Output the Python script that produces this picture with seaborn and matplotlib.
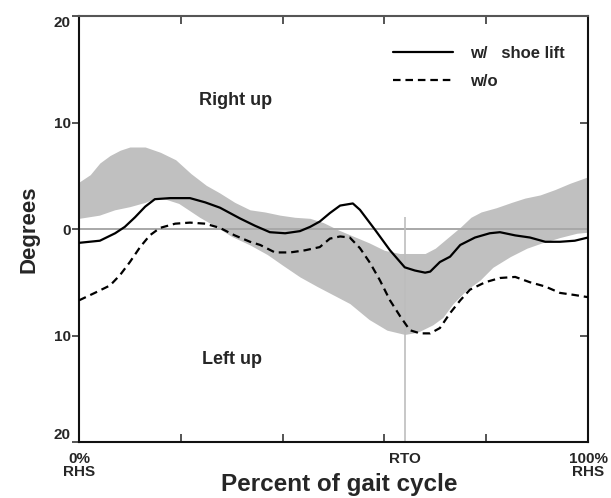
import matplotlib
matplotlib.use("Agg")
import matplotlib.pyplot as plt
import seaborn as sns
import pandas as pd
import numpy as np

# ---- data ----
with_x = [0, 4.1, 7.1, 9.0, 11.0, 13.0, 14.9, 17.9, 21.8, 24.8, 27.7, 31.6, 34.6, 37.5,
          40.5, 43.4, 45.4, 47.3, 49.3, 51.3, 53.8, 55.2, 58.2, 61.1, 64.0, 66.0, 68.0,
          69.0, 70.9, 72.9, 74.9, 77.8, 80.7, 82.7, 85.7, 88.6, 91.6, 94.5, 97.4, 100]
with_y = [-1.3, -1.1, -0.4, 0.2, 1.1, 2.1, 2.8, 2.9, 2.9, 2.5, 2.0, 1.0, 0.3, -0.3,
          -0.4, -0.2, 0.2, 0.7, 1.5, 2.2, 2.4, 1.8, -0.1, -2.0, -3.6, -3.9, -4.1,
          -4.0, -3.1, -2.6, -1.5, -0.8, -0.4, -0.3, -0.6, -0.8, -1.2, -1.2, -1.1, -0.8]

without_x = [0, 3.1, 6.1, 8.1, 10.0, 12.0, 13.9, 15.9, 18.9, 21.8, 24.8, 27.7, 30.6, 33.6,
             35.6, 38.5, 41.5, 44.4, 47.3, 49.3, 51.3, 53.2, 55.2, 57.2, 59.1, 61.1, 63.1,
             65.0, 67.0, 69.0, 70.9, 72.9, 74.9, 76.8, 79.8, 82.7, 85.7, 88.6, 91.6, 94.5,
             97.4, 100]
without_y = [-6.7, -6.0, -5.3, -4.3, -3.1, -1.7, -0.6, 0.1, 0.5, 0.6, 0.5, 0.1, -0.6, -1.2,
             -1.5, -2.2, -2.2, -2.0, -1.7, -0.9, -0.7, -0.8, -1.8, -3.2, -4.8, -6.7, -8.2,
             -9.5, -9.8, -9.8, -9.3, -7.9, -6.7, -5.7, -5.0, -4.6, -4.5, -5.0, -5.4, -6.0,
             -6.2, -6.4]

band_hi_x = [0, 2.2, 4.1, 6.1, 8.1, 10, 13, 16, 19, 22, 25, 27.6, 30.6, 33.6, 36.5, 39.5,
             42.4, 45.4, 48, 51, 54, 57, 60, 63, 65, 68, 70, 73, 75, 77, 79, 82, 85, 87.6,
             90.6, 93.5, 96.5, 100]
band_hi_y = [4.4, 5.1, 6.2, 6.9, 7.4, 7.7, 7.7, 7.2, 6.5, 5.2, 4.1, 3.4, 2.5, 1.8, 1.6, 1.3,
             1.1, 1.0, 0.6, -0.1, -0.7, -1.3, -2.0, -2.3, -2.3, -2.3, -1.8, -0.6, 0.2, 1.1,
             1.6, 2.0, 2.5, 2.9, 3.2, 3.7, 4.3, 4.9]
band_lo_x = [0, 4, 7, 10, 13, 15, 17, 19.6, 21.5, 23.7, 27, 30, 33.6, 37, 40, 43.4, 46.8, 50,
             53.2, 57, 60.5, 64, 66.5, 69.5, 71.5, 73.5, 76.2, 78.8, 81.3, 84.7, 88, 91,
             94.5, 97.8, 100]
band_lo_y = [1.0, 1.3, 1.8, 2.1, 2.5, 2.9, 2.8, 2.4, 1.8, 1.1, 0.2, -0.7, -1.5, -2.4, -3.4,
             -4.5, -5.4, -6.2, -7.0, -8.5, -9.5, -9.9, -9.7, -9.0, -8.3, -7.0, -5.7, -4.8,
             -3.6, -2.6, -1.8, -1.3, -0.8, -0.4, -0.3]

series_labels = ["w/   shoe lift", "w/o"]
y_ticks = [-20, -10, 0, 10, 20]
y_ticklabels = ["20", "10", "0", "10", "20"]
x_label_pos = [0, 64, 100]
x_ticklabels = ["0%\nRHS", "RTO", "100%\nRHS"]
x_minor_ticks = [20, 40, 60, 80]
rto = 64

# ---- style ----
sns.set_theme(style="white")
plt.rcParams["font.family"] = ["Liberation Sans", "DejaVu Sans"]
plt.rcParams["font.weight"] = "bold"

fig = plt.figure(figsize=(6.11, 4.98), dpi=100)
ax = fig.add_axes([79 / 611, 1 - 442 / 498, (588 - 79) / 611, (442 - 16) / 498])

# band
bx = np.union1d(band_hi_x, band_lo_x)
ax.fill_between(bx, np.interp(bx, band_lo_x, band_lo_y), np.interp(bx, band_hi_x, band_hi_y),
                color="#c0c0c0", linewidth=0, zorder=1)

# reference lines
ax.axhline(0, color="#a8a8a8", lw=1.4, zorder=2)
ax.vlines(rto, -20, 1.1, color="#bdbdbd", lw=1.2, zorder=2)

df_with = pd.DataFrame({"x": with_x, "y": with_y})
df_without = pd.DataFrame({"x": without_x, "y": without_y})
sns.lineplot(data=df_with, x="x", y="y", ax=ax, color="black", lw=1.6,
             label=series_labels[0], zorder=3, sort=False)
sns.lineplot(data=df_without, x="x", y="y", ax=ax, color="black", lw=1.6,
             label=series_labels[1], zorder=3, sort=False)
ax.lines[-1].set_dashes((3.4, 2.2))

ax.set_xlim(0, 100)
ax.set_ylim(-20, 20)

ax.set_yticks(y_ticks)
ax.set_yticklabels(y_ticklabels, fontsize=11, fontweight="bold")
ax.tick_params(axis="y", direction="out", length=5, width=1.1, pad=1, left=True)
ylabs = ax.get_yticklabels()
ylabs[0].set_va("bottom")
ylabs[-1].set_va("top")

ax.set_xticks(x_label_pos)
ax.set_xticklabels(x_ticklabels, fontsize=11, fontweight="bold", linespacing=0.95)
ax.tick_params(axis="x", length=0, pad=7, bottom=True)
ax.set_xticks(x_minor_ticks, minor=True)
ax.tick_params(axis="x", which="minor", direction="in", length=6, width=1.1,
               bottom=True, top=True)

# right ticks inward
sec = ax.secondary_yaxis("right")
sec.set_yticks([-10, 0, 10])
sec.tick_params(direction="in", length=6, width=1.1, labelright=False)
sec.spines["right"].set_visible(False)

for s in ["left", "bottom", "right"]:
    ax.spines[s].set_color("#111111")
    ax.spines[s].set_linewidth(1.5)
ax.spines["top"].set_color("#555555")
ax.spines["top"].set_linewidth(1.5)

ax.set_xlabel("Percent of gait cycle", fontsize=17.5, fontweight="bold")
ax.xaxis.set_label_coords(0.512, -0.116)
ax.xaxis.label.set_va("baseline")
ax.set_ylabel("Degrees", fontsize=16, fontweight="bold", labelpad=10)

ax.text(30.8, 12.1, "Right up", fontsize=13, fontweight="bold", ha="center", va="center")
ax.text(30.0, -12.3, "Left up", fontsize=13, fontweight="bold", ha="center", va="center")

leg = ax.legend(loc="upper left", bbox_to_anchor=(393 / 611, 1 - 46 / 498),
                bbox_transform=fig.transFigure, frameon=False,
                handlelength=3.6, handletextpad=1.0, labelspacing=0.8, borderpad=0,
                borderaxespad=0, prop={"weight": "bold", "size": 12})
for line in leg.get_lines():
    line.set_linewidth(1.6)

fig.savefig("out.png", dpi=100)
